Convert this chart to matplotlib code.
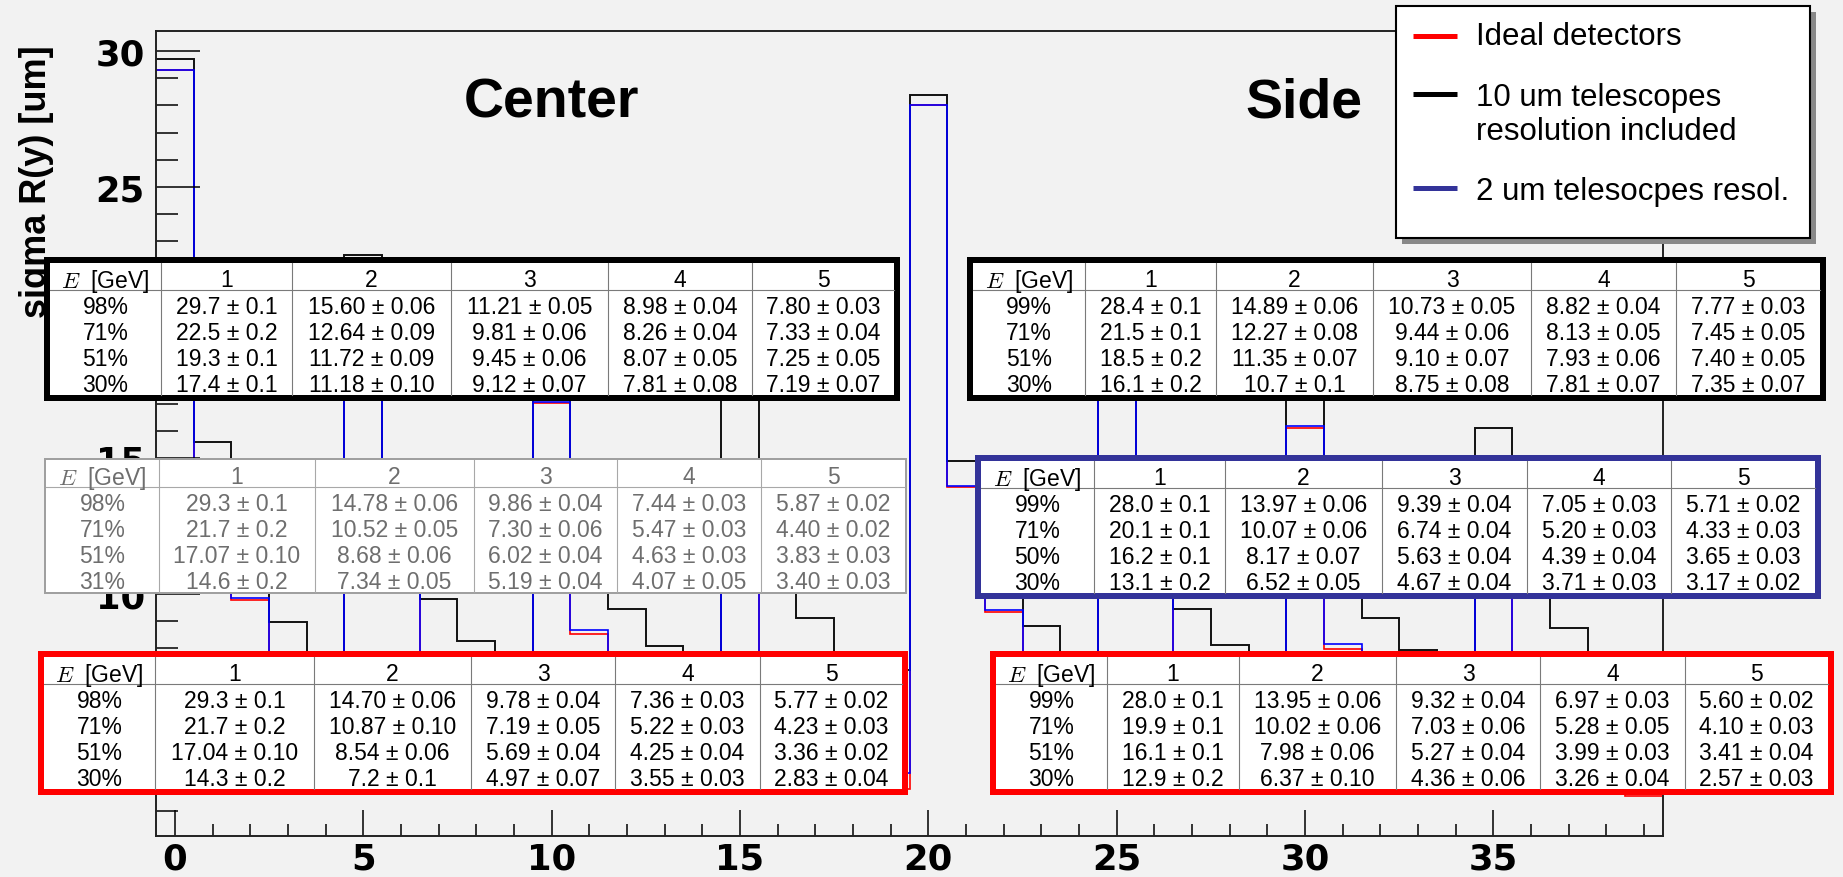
import numpy as np
import matplotlib.pyplot as plt
from matplotlib.patches import Rectangle

plt.rcParams['mathtext.fontset'] = 'cm'

W, H = 1843, 878
energies = ['1', '2', '3', '4', '5']
series_labels = ['Ideal detectors', '10 um telescopes\nresolution included',
                 '2 um telesocpes resol.']

# Center, 10 um telescopes (black)
c_black_pct = ['98%', '71%', '51%', '30%']
c_black_val = [['29.7', '15.60', '11.21', '8.98', '7.80'],
               ['22.5', '12.64', '9.81', '8.26', '7.33'],
               ['19.3', '11.72', '9.45', '8.07', '7.25'],
               ['17.4', '11.18', '9.12', '7.81', '7.19']]
c_black_err = [['0.1', '0.06', '0.05', '0.04', '0.03'],
               ['0.2', '0.09', '0.06', '0.04', '0.04'],
               ['0.1', '0.09', '0.06', '0.05', '0.05'],
               ['0.1', '0.10', '0.07', '0.08', '0.07']]

# Center, 2 um telescopes (blue, grey table)
c_blue_pct = ['98%', '71%', '51%', '31%']
c_blue_val = [['29.3', '14.78', '9.86', '7.44', '5.87'],
              ['21.7', '10.52', '7.30', '5.47', '4.40'],
              ['17.07', '8.68', '6.02', '4.63', '3.83'],
              ['14.6', '7.34', '5.19', '4.07', '3.40']]
c_blue_err = [['0.1', '0.06', '0.04', '0.03', '0.02'],
              ['0.2', '0.05', '0.06', '0.03', '0.02'],
              ['0.10', '0.06', '0.04', '0.03', '0.03'],
              ['0.2', '0.05', '0.04', '0.05', '0.03']]

# Center, ideal detectors (red)
c_red_pct = ['98%', '71%', '51%', '30%']
c_red_val = [['29.3', '14.70', '9.78', '7.36', '5.77'],
             ['21.7', '10.87', '7.19', '5.22', '4.23'],
             ['17.04', '8.54', '5.69', '4.25', '3.36'],
             ['14.3', '7.2', '4.97', '3.55', '2.83']]
c_red_err = [['0.1', '0.06', '0.04', '0.03', '0.02'],
             ['0.2', '0.10', '0.05', '0.03', '0.03'],
             ['0.10', '0.06', '0.04', '0.04', '0.02'],
             ['0.2', '0.1', '0.07', '0.03', '0.04']]

# Side, 10 um telescopes (black)
s_black_pct = ['99%', '71%', '51%', '30%']
s_black_val = [['28.4', '14.89', '10.73', '8.82', '7.77'],
               ['21.5', '12.27', '9.44', '8.13', '7.45'],
               ['18.5', '11.35', '9.10', '7.93', '7.40'],
               ['16.1', '10.7', '8.75', '7.81', '7.35']]
s_black_err = [['0.1', '0.06', '0.05', '0.04', '0.03'],
               ['0.1', '0.08', '0.06', '0.05', '0.05'],
               ['0.2', '0.07', '0.07', '0.06', '0.05'],
               ['0.2', '0.1', '0.08', '0.07', '0.07']]

# Side, 2 um telescopes (blue)
s_blue_pct = ['99%', '71%', '50%', '30%']
s_blue_val = [['28.0', '13.97', '9.39', '7.05', '5.71'],
              ['20.1', '10.07', '6.74', '5.20', '4.33'],
              ['16.2', '8.17', '5.63', '4.39', '3.65'],
              ['13.1', '6.52', '4.67', '3.71', '3.17']]
s_blue_err = [['0.1', '0.06', '0.04', '0.03', '0.02'],
              ['0.1', '0.06', '0.04', '0.03', '0.03'],
              ['0.1', '0.07', '0.04', '0.04', '0.03'],
              ['0.2', '0.05', '0.04', '0.03', '0.02']]

# Side, ideal detectors (red)
s_red_pct = ['99%', '71%', '51%', '30%']
s_red_val = [['28.0', '13.95', '9.32', '6.97', '5.60'],
             ['19.9', '10.02', '7.03', '5.28', '4.10'],
             ['16.1', '7.98', '5.27', '3.99', '3.41'],
             ['12.9', '6.37', '4.36', '3.26', '2.57']]
s_red_err = [['0.1', '0.06', '0.04', '0.03', '0.02'],
             ['0.1', '0.06', '0.06', '0.05', '0.03'],
             ['0.1', '0.06', '0.04', '0.03', '0.04'],
             ['0.2', '0.10', '0.06', '0.04', '0.03']]


def to_bins(vals):
    # one bin per (percentage, energy) cell, row after row
    return [float(v) for row in vals for v in row]


red = np.array(to_bins(c_red_val) + to_bins(s_red_val))
black = np.array(to_bins(c_black_val) + to_bins(s_black_val))
blue = np.array(to_bins(c_blue_val) + to_bins(s_blue_val))
edges = np.arange(len(red) + 1) - 0.5

bg = '#f2f2f2'
fig = plt.figure(figsize=(W / 100, H / 100), dpi=100, facecolor=bg)

ax = fig.add_axes([156 / W, 1 - 837 / H, (1663 - 156) / W, (837 - 32) / H])
ax.set_facecolor(bg)
ax.stairs(red, edges, color='#ff0000', lw=1.2, baseline=None)
ax.stairs(black, edges, color='#111111', lw=1.4, baseline=None)
ax.stairs(blue, edges, color='#0000ff', lw=1.2, baseline=None)
ax.set_xlim(-0.5, 39.5)
ax.set_ylim(1.08, 30.74)
ax.set_xticks(np.arange(0, 40, 5))
ax.set_xticks(np.arange(0, 40, 1), minor=True)
ax.set_yticks(np.arange(5, 31, 5))
ax.set_yticks(np.arange(2, 31, 1), minor=True)
ax.tick_params(axis='x', which='major', direction='in', length=18.5, width=1.1, pad=4)
ax.tick_params(axis='x', which='minor', direction='in', length=8.5, width=1.1)
ax.tick_params(axis='y', which='major', direction='in', length=32, width=1.1, pad=8)
ax.tick_params(axis='y', which='minor', direction='in', length=16, width=1.1)
for lab in ax.get_xticklabels() + ax.get_yticklabels():
    lab.set_fontfamily('DejaVu Sans')
    lab.set_fontweight('bold')
    lab.set_fontsize(25.5)
for sp in ax.spines.values():
    sp.set_linewidth(1.4)
    sp.set_color('#222222')

# overlay in pixel coordinates for the pasted tables and the legend
ov = fig.add_axes([0, 0, 1, 1], zorder=10)
ov.set_xlim(0, W)
ov.set_ylim(H, 0)
ov.axis('off')

ov.text(37, 182, 'sigma R(y) [um]', rotation=90, ha='center', va='center',
        fontsize=26, fontweight='bold', family='Liberation Sans', zorder=2)
ov.text(552, 104, 'Center', ha='center', va='center', fontsize=40,
        fontweight='bold', family='Liberation Sans', zorder=2)
ov.text(1304, 104, 'Side', ha='center', va='center', fontsize=40,
        fontweight='bold', family='Liberation Sans', zorder=2)


def draw_table(box, seps, pcts, vals, errs, edge, bw, fg='black', grid='#7a7a7a'):
    x0, x1, y0, y1 = box
    ov.add_patch(Rectangle((x0 - bw / 2, y0 - bw / 2), x1 - x0 + bw, y1 - y0 + bw,
                           facecolor='white', edgecolor=edge, lw=bw * 0.72, zorder=5))
    ov.plot([x0, x1], [y0 + 27, y0 + 27], color=grid, lw=0.8, zorder=6)
    for s in seps:
        ov.plot([s, s], [y0, y1], color=grid, lw=0.8, zorder=6)
    bounds = [x0] + list(seps) + [x1]
    cx = [(a + b) / 2 for a, b in zip(bounds[:-1], bounds[1:])]
    kw = dict(ha='center', va='center_baseline', fontsize=16.5, color=fg,
              family='Liberation Sans', zorder=7)
    ov.text(cx[0], y0 + 14, r'$E$  [GeV]', **kw)
    for j, e in enumerate(energies):
        ov.text(cx[j + 1], y0 + 14, e, **kw)
    for i, p in enumerate(pcts):
        y = y0 + 41 + 26 * i
        ov.text(cx[0], y, p, **kw)
        for j in range(len(energies)):
            ov.text(cx[j + 1], y, '%s \u00b1 %s' % (vals[i][j], errs[i][j]), **kw)


draw_table((50, 894, 264, 396), [161, 292, 451, 608, 752],
           c_black_pct, c_black_val, c_black_err, 'black', 6)
draw_table((46, 905, 461, 593), [159, 315, 474, 617, 761],
           c_blue_pct, c_blue_val, c_blue_err, '#a0a0a0', 2, fg='#6e6e6e', grid='#a8a8a8')
draw_table((44, 902, 658, 790), [155, 314, 471, 615, 760],
           c_red_pct, c_red_val, c_red_err, '#ff0000', 6)
draw_table((973, 1820, 264, 396), [1085, 1216, 1373, 1531, 1676],
           s_black_pct, s_black_val, s_black_err, 'black', 6)
draw_table((981, 1815, 462, 594), [1094, 1225, 1382, 1527, 1671],
           s_blue_pct, s_blue_val, s_blue_err, '#333399', 6)
draw_table((996, 1828, 658, 790), [1107, 1239, 1396, 1540, 1685],
           s_red_pct, s_red_val, s_red_err, '#ff0000', 6)

# legend box with shadow
ov.add_patch(Rectangle((1402, 13), 414, 232, facecolor='#888888', edgecolor='none', zorder=8))
ov.add_patch(Rectangle((1396, 7), 414, 232, facecolor='white', edgecolor='black',
                       lw=1.5, zorder=9))
leg_colors = ['#ff0000', '#000000', '#333399']
leg_y = [37, 95, 189]
leg_text_y = [37, 115, 192]
for lab, col, ly, ty in zip(series_labels, leg_colors, leg_y, leg_text_y):
    ov.plot([1413, 1457], [ly, ly], color=col, lw=3.6, solid_capstyle='butt', zorder=10)
    ov.text(1476, ty, lab, ha='left', va='center', fontsize=22.5,
            family='Liberation Sans', linespacing=1.15, zorder=10)

fig.savefig('out.png', dpi=100, facecolor=bg)
